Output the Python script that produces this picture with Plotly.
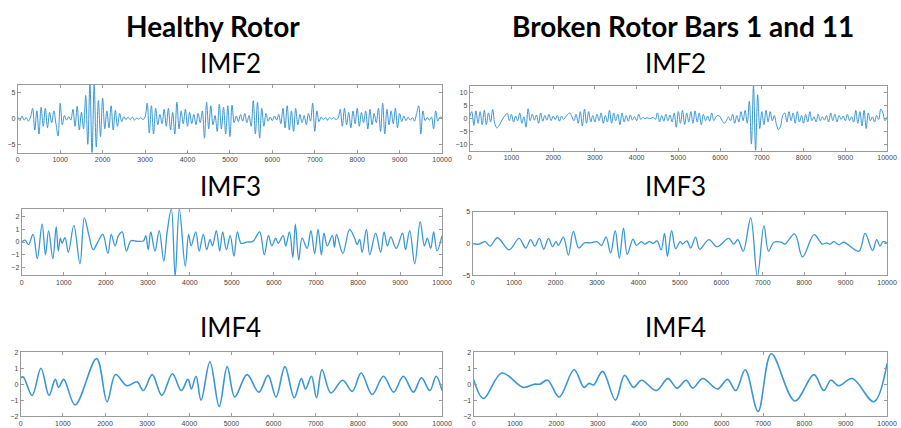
import numpy as np
import plotly.graph_objects as go

# ---------------- data ----------------
# IMF2 values sampled every 50 samples (0 .. 10000)
healthy_imf2 = [0.3, -0.4, 0.5, -0.3, 0.2, -0.5, 0.3, 2.0, -2.2, 1.5, -3.0, 2.2, -1.5, 2.0, -1.8, 1.2,
                -0.8, 1.5, -1.0, -3.4, 3.0, -1.2, 0.6, -0.3, 0.4, -0.3, 1.8, -1.5, 2.4, -2.2, 1.2, -2.0,
                4.5, -5.0, 6.8, -6.8, 6.5, -5.5, 3.5, -3.5, 4.0, -2.0, 1.5, -1.8, 2.5, -2.2, 1.6, -1.5,
                1.0, -0.6, 0.4, -0.2, 0.3, -0.2, 0.3, -0.3, 0.1, -0.1, 0.2, -0.2, 0.3, 3.0, -2.8, 2.5,
                -3.0, 2.0, -1.2, 0.8, -1.0, 1.8, -1.5, 2.0, -2.2, 1.2, -3.0, 3.2, -2.0, 1.5, -1.0, 1.8,
                -1.5, 1.2, -1.0, 0.8, -1.2, 1.0, -0.8, 1.5, -3.8, 3.2, -2.0, 2.5, -1.2, 0.6, -2.5, 2.8,
                -2.0, 2.2, -3.0, 2.5, -3.5, 2.6, -0.8, 0.5, -0.6, 0.8, -0.5, 1.0, -0.8, 0.6, -1.5, 3.5,
                -3.0, 3.2, -3.8, 2.0, -1.5, 1.0, -0.5, 0.3, -0.4, 0.5, -0.3, 0.8, -1.0, 2.0, -1.8, 2.5,
                -2.2, 1.5, -2.5, 2.0, -1.2, 0.8, -0.8, 0.6, -1.2, 1.0, -0.5, 3.0, -2.5, 1.5, -0.6, 0.3,
                -0.2, 0.2, -0.3, 0.2, -0.1, 0.2, -0.2, 0.1, 1.8, -1.5, 2.0, -1.2, 1.2, -1.8, 1.5, -1.0,
                2.0, -1.5, 1.2, -0.8, 1.5, -2.0, 1.8, -1.2, 1.0, -0.8, 2.0, -2.5, 3.0, -3.0, 1.8, -1.2,
                1.5, -1.0, 2.0, -1.8, 1.0, -0.6, 0.5, -0.4, 0.3, -0.3, 0.2, -0.5, 1.0, 2.5, -3.0, 1.5,
                -0.4, 0.2, -0.3, 0.3, -2.0, 1.5, -0.5, 0.3, 0.2]
broken_imf2 = [0.5, 2.5, -2.8, 2.8, -2.0, 2.5, -2.5, 3.0, -2.5, 2.0, -1.5, 3.3, -2.0, -3.8, -3.0, -1.5,
               0.0, 1.0, 1.8, -1.0, 1.5, -1.5, 0.8, -1.0, 2.0, -2.0, 0.5, -3.5, 3.6, -1.0, 1.5, -0.8,
               1.2, -2.0, 2.0, -1.2, 1.0, -0.8, 1.5, -1.0, 0.8, -0.6, 1.0, -1.2, 0.8, -0.5, 0.5, 1.5,
               2.0, 0.5, -1.0, 1.5, -2.0, 2.5, -3.0, 3.5, -2.0, 2.5, -1.5, 1.0, -1.5, 1.5, -1.0, 2.0,
               -2.0, 1.0, -1.5, 3.0, -2.0, 2.0, -1.0, 1.5, -2.5, 2.0, -1.5, 1.0, -1.2, 1.2, -0.8, 0.6,
               -1.0, 1.5, -0.5, 0.3, -0.3, 0.2, -0.2, 0.0, 0.3, -0.5, 2.0, -1.5, 1.0, -1.2, 1.5, -1.0,
               1.2, -1.5, 2.0, -3.5, 2.5, -2.0, 3.0, -2.5, 2.0, -1.5, 2.5, -2.0, 2.8, -1.5, 2.0, -2.5,
               1.5, -1.0, 0.8, -1.2, 2.0, -1.0, 0.5, 1.0, 0.5, -1.0, -2.0, -1.0, 0.5, -1.0, 1.5, -2.0,
               1.0, -1.5, 2.5, -1.0, 3.0, -2.0, 6.5, -10.0, 12.5, -12.5, 9.0, -4.0, 2.5, -2.5, 3.0, -1.5,
               2.5, -1.0, 1.0, -2.5, -4.5, -3.0, 1.0, 2.0, -1.5, 2.5, -1.0, 2.0, -2.0, 2.5, -1.5, 1.0,
               -2.0, 1.5, -1.5, 2.5, -1.0, 0.5, -1.5, 1.5, -1.0, 0.5, -0.8, 1.0, -1.5, 2.0, -1.0, 1.5,
               -1.5, 1.0, -0.5, 0.8, -1.0, 1.5, -1.0, 0.5, -1.5, 3.0, -2.0, 2.5, -3.0, 3.0, -4.0, 2.0,
               -1.0, 0.5, -1.5, 1.0, -0.5, 3.5, 2.0, -1.0, 0.5]

# IMF3 / IMF4 extrema: sample index and value
healthy_imf3_x = [0, 80, 160, 270, 370, 485, 565, 640, 740, 820, 870, 920, 960, 1030, 1110, 1240, 1385,
                  1490, 1600, 1700, 1810, 1930, 2050, 2130, 2220, 2300, 2390, 2490, 2600, 2750, 2900, 2950,
                  3010, 3070, 3170, 3270, 3380, 3460, 3560, 3650, 3750, 3890, 3970, 4030, 4140, 4220, 4320,
                  4400, 4480, 4540, 4630, 4710, 4780, 4870, 4960, 5050, 5130, 5220, 5350, 5500, 5660, 5770,
                  5870, 5950, 6040, 6100, 6220, 6280, 6370, 6450, 6510, 6590, 6670, 6790, 6880, 6970, 7050,
                  7130, 7190, 7270, 7390, 7440, 7490, 7640, 7800, 7920, 7980, 8040, 8100, 8200, 8280, 8420,
                  8540, 8620, 8700, 8780, 8910, 9060, 9130, 9230, 9350, 9480, 9580, 9650, 9730, 9800, 9880,
                  10000]
healthy_imf3_y = [0.0, 0.15, -0.2, 0.6, -1.3, 1.4, -1.0, 0.9, -1.3, 1.2, -0.7, 0.3, -0.1, 0.35, -0.8, 1.3,
                  -1.7, 1.9, 0.5, -0.6, 0.0, 0.6, -0.9, 0.6, -0.3, 0.5, 0.8, -0.7, 0.1, 0.05, 0.1, 0.5,
                  -0.6, 0.8, -0.7, 0.9, -1.5, 0.8, 2.6, -2.7, 2.6, -1.9, 0.6, -0.3, 0.8, -0.7, 0.6,
                  -0.6, 0.2, -0.3, 0.9, -0.7, 0.8, -0.6, 0.5, -1.1, 0.8, -0.1, 0.0, 0.05, 0.8, -1.0,
                  0.5, -0.3, 0.3, -0.1, 0.5, -0.3, 0.8, -1.2, 1.4, -1.4, 0.3, -0.5, 0.9, -0.9, 1.0,
                  -1.0, 0.7, -0.3, 0.5, -0.4, 0.6, -0.9, 1.0, 0.3, -0.2, 0.2, -0.8, 1.0, -1.0, 0.7,
                  -0.8, 0.8, -0.3, 0.4, -0.5, 0.7, -0.6, 0.9, -1.7, 1.6, -0.3, 0.3, -0.5, 0.8,
                  -0.7, 0.5]

broken_imf3_x = [0, 150, 300, 420, 600, 880, 1120, 1280, 1400, 1500, 1610, 1715, 1830, 1930, 2010, 2070,
                 2190, 2310, 2430, 2560, 2700, 2850, 3000, 3110, 3220, 3330, 3440, 3540, 3640, 3730, 3870,
                 3950, 4070, 4150, 4270, 4350, 4450, 4550, 4630, 4700, 4800, 4900, 5010, 5060, 5170, 5260,
                 5380, 5480, 5700, 5900, 6180, 6300, 6400, 6530, 6710, 6870, 7030, 7140, 7270, 7450, 7530,
                 7770, 7960, 8240, 8440, 8540, 8620, 8720, 8840, 8950, 9320, 9470, 9650, 9750, 9830, 9900,
                 10000]
broken_imf3_y = [0.0, -0.1, 0.3, -0.4, 0.9, -1.0, 0.8, -0.7, 0.6, -0.4, 0.8, -0.9, 0.8, -0.5, 0.3, -0.3,
                 1.0, -1.8, 1.9, -0.7, 0.1, 0.1, 0.3, -0.3, 1.0, -1.5, 2.0, -2.3, 2.4, -1.7, 0.7,
                 -0.3, 0.3, -0.1, 0.3, 0.0, 0.4, -1.0, 1.6, -2.0, 2.0, -0.8, 0.3, -0.1, 0.4, -0.7,
                 1.0, -0.9, 0.6, -0.5, 0.8, -0.1, 0.6, -1.2, 4.0, -5.2, 2.8, -1.2, 0.2, 0.2, -0.1,
                 1.5, -2.1, 1.4, -0.1, 0.1, -0.1, 0.3, -0.2, 0.2, -1.2, 1.6, -1.1, 0.6, -0.4, 0.3,
                 0.1]

healthy_imf4_x = [0, 60, 270, 480, 670, 820, 900, 1020, 1290, 1800, 2050, 2250, 2520, 2760, 2910, 3120,
                  3350, 3600, 3810, 3970, 4050, 4160, 4280, 4490, 4710, 4900, 5080, 5370, 5650, 5870, 6060,
                  6270, 6490, 6660, 6760, 6900, 7020, 7150, 7360, 7640, 7870, 8080, 8340, 8610, 8850, 9080,
                  9320, 9510, 9710, 9860, 10000]
healthy_imf4_y = [0.4, 0.45, -0.7, 1.0, -0.7, 0.3, -0.2, 0.3, -1.3, 1.6, -1.1, 0.6, -0.1, 0.15, -0.4, 0.6,
                  -0.7, 0.65, -0.4, 0.3, -0.3, 0.5, -1.0, 1.4, -1.4, 1.1, -0.8, 0.6, -0.5, 0.55, -0.8,
                  1.1, -0.85, 0.35, -0.3, 0.5, -0.85, 0.9, -0.55, 0.25, -0.45, 0.7, -0.65, 0.5, -0.5, 0.5,
                  -0.5, 0.4, -0.4, 0.5, -0.4]

broken_imf4_x = [0, 240, 680, 1200, 1470, 1600, 1790, 2070, 2430, 2670, 2790, 2900, 3120, 3430, 3650, 3870,
                 4060, 4420, 4700, 4920, 5140, 5300, 5540, 5900, 6140, 6340, 6570, 6880, 7200, 7770, 8230,
                 8470, 8640, 8830, 9160, 9680, 10000]
broken_imf4_y = [0.3, -0.9, 0.7, -0.2, 0.0, 0.0, 0.25, -0.8, 0.9, -0.2, 0.05, -0.05, 0.8, -1.0, 0.55, -0.2,
                 0.25, -0.4, 0.35, -0.25, 0.25, -0.25, 0.35, -0.3, 0.3, -0.4, 0.9, -1.7, 1.9, -1.05, 0.6,
                 -0.4, 0.25, -0.1, 0.35, -1.1, 1.3]

x_ticks = [0, 1000, 2000, 3000, 4000, 5000, 6000, 7000, 8000, 9000, 10000]
titles = ["Healthy Rotor", "Broken Rotor Bars 1 and 11"]
imf_labels = ["IMF2", "IMF3", "IMF4"]

# ---------------- layout geometry ----------------
W, H = 901, 428
LINE = "#3a96d6"

panels = [
    # (x, y arrays, box left, right, top, bottom (px), y range, y ticks, line width)
    (np.linspace(0, 10000, len(healthy_imf2)), healthy_imf2, 16, 446, 82, 151, [-6.6, 6.6], [-5, 0, 5], 1.0),
    (np.linspace(0, 10000, len(broken_imf2)), broken_imf2, 474, 897, 83, 149, [-12.5, 12.5], [-10, -5, 0, 5, 10], 1.0),
    (healthy_imf3_x, healthy_imf3_y, 20, 446, 208, 276, [-2.62, 2.62], [-2, -1, 0, 1, 2], 1.3),
    (broken_imf3_x, broken_imf3_y, 477, 897, 211, 276, [-5, 5], [-5, 0, 5], 1.3),
    (healthy_imf4_x, healthy_imf4_y, 19, 446, 354, 419, [-2, 2], [-2, -1, 0, 1, 2], 1.6),
    (broken_imf4_x, broken_imf4_y, 478, 897, 354, 419, [-2, 2], [-2, -1, 0, 1, 2], 1.6),
]

fig = go.Figure()
layout = dict(
    width=W, height=H, margin=dict(l=0, r=0, t=0, b=0),
    paper_bgcolor="white", plot_bgcolor="white", showlegend=False,
    font=dict(family="Liberation Sans, Arial, sans-serif", color="#333"),
)

for i, (xs, ys, l, r, t, b, yr, yt, lw) in enumerate(panels):
    n = "" if i == 0 else str(i + 1)
    fig.add_trace(go.Scatter(x=list(xs), y=list(ys), mode="lines",
                             line=dict(color=LINE, width=lw, shape="spline", smoothing=1.0),
                             xaxis="x" + n, yaxis="y" + n, hoverinfo="skip"))
    common = dict(showgrid=False, zeroline=False, showline=True, linecolor="#9a9a9a", linewidth=1,
                  mirror="ticks", ticks="inside", ticklen=3, tickcolor="#9a9a9a",
                  tickfont=dict(size=7, color="#444"))
    layout["xaxis" + n] = dict(domain=[l / W, r / W], anchor="y" + n, range=[0, 10000],
                               tickvals=x_ticks, ticktext=[str(v) for v in x_ticks], **common)
    layout["yaxis" + n] = dict(domain=[1 - b / H, 1 - t / H], anchor="x" + n, range=yr,
                               tickvals=yt, **common)

fig.update_layout(**layout)

# titles
ann = []
for txt, cx in zip(titles, [214, 690]):
    ann.append(dict(text="<b>" + txt + "</b>", x=cx / W, y=1 - 22 / H, xref="paper", yref="paper",
                    showarrow=False, xanchor="center", yanchor="middle",
                    font=dict(family="Lato, sans-serif", size=28, color="black")))
for lab, cy in zip(imf_labels, [60, 185, 328]):
    for cx in [232, 683]:
        ann.append(dict(text=lab, x=cx / W, y=1 - cy / H, xref="paper", yref="paper",
                        showarrow=False, xanchor="center", yanchor="middle",
                        font=dict(family="Lato, sans-serif", size=26, color="black")))
fig.update_layout(annotations=ann)

# remove the default 8px page margin so the figure fills the window exactly
fig.write_html("out.html", config={"displayModeBar": False},
               post_script="document.body.style.margin='0';document.body.style.overflow='hidden';")
